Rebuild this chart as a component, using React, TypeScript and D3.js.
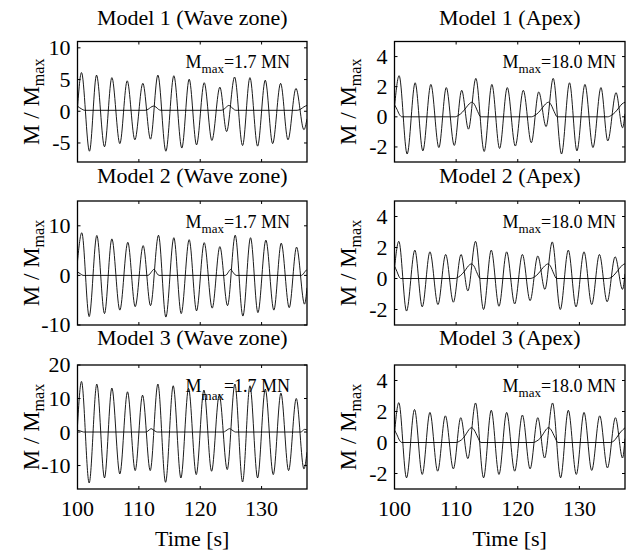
import React from 'react';
import * as d3 from 'd3';

type Pt = [number, number];

const xTicks = [100, 110, 120, 130];
const timeDomain: [number, number] = [100, 137.4];
const titles = [
  'Model 1 (Wave zone)', 'Model 1 (Apex)',
  'Model 2 (Wave zone)', 'Model 2 (Apex)',
  'Model 3 (Wave zone)', 'Model 3 (Apex)',
];
const mmaxLabels = ['1.7 MN', '18.0 MN'];
const yDomains: [number, number][] = [[-8, 11], [-3, 5], [-10, 15], [-3, 5], [-17, 20], [-3, 5]];
const yTickSets = [[-5, 0, 5, 10], [-2, 0, 2, 4], [-10, 0, 10], [-2, 0, 2, 4], [-10, 0, 10, 20], [-2, 0, 2, 4]];

// Model 1 (Wave zone)
const wave11: Pt[] = [
  [100.0, 0.5], [100.65, 6.1], [101.95, -6.3], [103.1, 5.7], [104.4, -5.6], [105.6, 5.3], [106.9, -5.1],
  [108.1, 4.8], [109.35, -4.5], [110.65, 4.4], [111.9, -4.4], [113.1, 5.7], [114.4, -6.3], [115.7, 5.6],
  [117.0, -5.8], [118.2, 5.05], [119.4, -5.3], [120.65, 4.5], [121.9, -4.6], [123.2, 3.8], [124.3, -3.2],
  [125.6, 5.4], [126.9, -5.4], [128.1, 5.3], [129.35, -5.5], [130.6, 4.9], [131.8, -5.1], [133.1, 4.4],
  [134.3, -4.5], [135.6, 3.6], [136.9, -2.9], [137.4, -1.2],
];
const slow11: Pt[] = [
  [100, 0.8], [100.6, 0.4], [101.2, 0.15], [111.0, 0.15], [111.5, 0.3], [111.9, 0.6], [112.4, 0.82], [112.8, 0.65],
  [113.2, 0.3], [113.6, 0.15], [123.4, 0.15], [123.9, 0.35], [124.3, 0.7], [124.65, 0.92], [125.0, 0.75],
  [125.4, 0.35], [125.8, 0.15], [135.8, 0.15], [136.4, 0.35], [136.9, 0.7], [137.4, 0.92],
];
// Model 1 (Apex)
const wave12: Pt[] = [
  [100.0, 0.65], [100.75, 2.73], [102.05, -2.47], [103.35, 2.26], [104.6, -2.26], [105.9, 2.15], [107.2, -2.04],
  [108.4, 1.94], [109.7, -1.9], [110.9, 1.76], [112.0, -0.82], [113.2, 2.55], [114.55, -2.3], [115.8, 2.15],
  [117.05, -2.1], [118.3, 1.94], [119.6, -1.94], [120.9, 1.76], [122.2, -1.72], [123.4, 1.65], [124.6, -0.65],
  [125.75, 2.55], [127.1, -2.47], [128.4, 2.26], [129.6, -2.26], [130.9, 2.15], [132.2, -2.04], [133.5, 1.94],
  [134.6, -1.6], [135.95, 1.6], [137.0, -0.73], [137.4, 0.2],
];
const slow12: Pt[] = [
  [100, 0.8], [100.4, 0.5], [100.8, 0.15], [101.2, 0], [109.8, 0], [110.4, 0.1], [111.0, 0.3], [111.6, 0.6],
  [112.1, 0.85], [112.6, 0.97], [113.0, 0.8], [113.5, 0.35], [114.0, 0], [122.2, 0], [122.8, 0.1], [123.4, 0.3],
  [124.0, 0.6], [124.5, 0.85], [125.0, 0.97], [125.4, 0.8], [125.9, 0.35], [126.4, 0], [134.6, 0], [135.2, 0.1],
  [135.8, 0.3], [136.4, 0.6], [136.9, 0.85], [137.4, 0.97],
];
// Model 2 (Wave zone)
const wave21: Pt[] = [
  [100.0, 2.9], [100.7, 8.6], [101.9, -8.3], [103.15, 8.05], [104.4, -7.7], [105.6, 7.36], [106.9, -7.0],
  [108.2, 6.67], [109.4, -6.3], [110.7, 6.0], [111.9, -6.1], [113.2, 8.1], [114.4, -8.4], [115.7, 7.6],
  [116.9, -7.7], [118.2, 7.2], [119.4, -7.15], [120.65, 6.6], [121.95, -6.6], [123.2, 5.8], [124.45, -6.1],
  [125.7, 8.1], [126.95, -8.2], [128.2, 7.6], [129.4, -7.5], [130.7, 7.1], [132.0, -7.0], [133.2, 6.5],
  [134.5, -6.5], [135.7, 5.7], [137.0, -5.8], [137.4, -2.5],
];
const slow21: Pt[] = [
  [100, 0.7], [100.5, 0.3], [100.9, 0], [111.5, 0], [111.8, 0.3], [112.1, 0.8], [112.45, 1.2], [112.75, 0.8],
  [113.0, 0.3], [113.3, 0], [124.1, 0], [124.4, 0.3], [124.65, 0.8], [124.95, 1.2], [125.25, 0.8], [125.55, 0.3],
  [125.85, 0], [136.5, 0], [136.8, 0.3], [137.1, 0.8], [137.4, 1.2],
];
// Model 2 (Apex)
const wave22: Pt[] = [
  [100.0, 0.66], [100.7, 2.4], [101.95, -2.1], [103.3, 1.83], [104.5, -1.83], [105.75, 1.72], [107.05, -1.68],
  [108.3, 1.55], [109.55, -1.53], [110.8, 1.55], [111.9, -0.8], [113.15, 2.4], [114.45, -2.0], [115.7, 1.83],
  [116.95, -1.79], [118.2, 1.72], [119.5, -1.64], [120.75, 1.55], [122.0, -1.43], [123.25, 1.45], [124.4, -0.7],
  [125.6, 2.36], [126.9, -2.0], [128.2, 1.83], [129.45, -1.83], [130.75, 1.72], [132.0, -1.68], [133.25, 1.55],
  [134.5, -1.5], [135.8, 1.4], [137.0, -0.7], [137.4, 0.3],
];
const slow22: Pt[] = [
  [100, 0.8], [100.4, 0.45], [100.7, 0.15], [101.0, 0], [109.8, 0], [110.4, 0.1], [111.0, 0.3], [111.6, 0.6],
  [112.0, 0.82], [112.5, 0.94], [112.9, 0.8], [113.4, 0.35], [113.9, 0], [122.0, 0], [122.7, 0.1], [123.3, 0.3],
  [123.9, 0.6], [124.4, 0.82], [124.9, 0.94], [125.3, 0.8], [125.8, 0.35], [126.3, 0], [134.6, 0], [135.3, 0.1],
  [135.9, 0.35], [136.5, 0.65], [137.0, 0.87], [137.4, 0.95],
];
// Model 3 (Wave zone)
const wave31: Pt[] = [
  [100.0, 2.0], [100.65, 15.1], [101.9, -15.2], [103.15, 14.3], [104.4, -13.7], [105.6, 13.1], [106.9, -12.5],
  [108.15, 12.0], [109.4, -11.5], [110.6, 11.0], [111.85, -11.5], [113.1, 14.3], [114.35, -15.0], [115.6, 13.8],
  [116.85, -13.7], [118.1, 13.0], [119.35, -12.7], [120.6, 12.5], [121.85, -11.7], [123.1, 11.0], [124.4, -11.2],
  [125.65, 14.3], [126.9, -14.9], [128.1, 13.8], [129.35, -13.7], [130.6, 12.8], [131.9, -12.7], [133.15, 11.6],
  [134.4, -11.5], [135.65, 10.0], [136.9, -11.0], [137.4, -6.0],
];
const slow31: Pt[] = [
  [100, 0.5], [100.5, 0.3], [101.0, 0], [111.2, 0], [111.45, 0.25], [111.7, 0.65], [112.0, 1.0], [112.3, 0.7],
  [112.65, 0.25], [113.0, 0], [123.85, 0], [124.1, 0.25], [124.4, 0.65], [124.8, 1.0], [125.1, 0.7],
  [125.45, 0.25], [125.75, 0], [136.4, 0], [136.65, 0.3], [136.85, 0.65], [137.05, 0.8], [137.4, 0.6],
];
// Model 3 (Apex)
const wave32: Pt[] = [
  [100.0, 0.6], [100.7, 2.57], [101.95, -2.28], [103.25, 2.13], [104.5, -2.06], [105.75, 1.94], [107.0, -1.85],
  [108.25, 1.72], [109.55, -1.7], [110.75, 1.6], [111.9, -1.04], [113.15, 2.55], [114.45, -2.28], [115.7, 2.08],
  [116.95, -2.06], [118.2, 1.94], [119.5, -1.85], [120.75, 1.77], [122.0, -1.7], [123.25, 1.6], [124.35, -1.0],
  [125.65, 2.55], [126.95, -2.28], [128.2, 2.08], [129.5, -2.06], [130.75, 1.94], [132.0, -1.8], [133.3, 1.72],
  [134.55, -1.64], [135.85, 1.6], [137.0, -1.0], [137.4, 0.25],
];
const slow32: Pt[] = [
  [100, 0.8], [100.4, 0.5], [100.8, 0.15], [101.2, 0], [110.0, 0], [110.6, 0.1], [111.2, 0.3], [111.7, 0.6],
  [112.1, 0.84], [112.5, 0.96], [112.9, 0.82], [113.5, 0.35], [114.0, 0], [122.5, 0], [123.1, 0.1], [123.7, 0.3],
  [124.2, 0.6], [124.6, 0.84], [125.0, 0.96], [125.4, 0.82], [126.0, 0.35], [126.5, 0], [135.0, 0], [135.6, 0.1],
  [136.1, 0.35], [136.7, 0.68], [137.4, 0.95],
];

const waves = [wave11, wave12, wave21, wave22, wave31, wave32];
const slows = [slow11, slow12, slow21, slow22, slow31, slow32];

// layout
const W = 634, H = 552;
const colX: [number, number][] = [[77.5, 307], [394.5, 625]];
const rowY: [number, number][] = [[41.5, 162], [201, 325], [365, 489]];
const titleBase = [25, 183, 345];
const FONT = "'Liberation Serif', 'Times New Roman', Times, serif";
const TICK = 3;

function Panel({ idx }: { idx: number }) {
  const row = Math.floor(idx / 2);
  const col = idx % 2;
  const [x0, x1] = colX[col];
  const [y0, y1] = rowY[row];
  const x = d3.scaleLinear().domain(timeDomain).range([x0, x1]);
  const y = d3.scaleLinear().domain(yDomains[idx]).range([y1, y0]);
  const line = d3.line<Pt>().x((d) => x(d[0])).y((d) => y(d[1])).curve(d3.curveMonotoneX);
  const clipId = `clip${idx}`;
  const yc = (y0 + y1) / 2;
  const subDy = row === 2 && col === 0 ? 8 : 5;
  return (
    <g>
      <defs>
        <clipPath id={clipId}>
          <rect x={x0} y={y0} width={x1 - x0} height={y1 - y0} />
        </clipPath>
      </defs>
      <g clipPath={`url(#${clipId})`} fill="none" stroke="#000" strokeWidth={0.9}>
        <path d={line(slows[idx]) || ''} />
        <path d={line(waves[idx]) || ''} />
      </g>
      <rect x={x0} y={y0} width={x1 - x0} height={y1 - y0} fill="none" stroke="#000" strokeWidth={1.3} />
      {xTicks.map((t) => (
        <g key={'xt' + t} stroke="#000" strokeWidth={1}>
          <line x1={x(t)} x2={x(t)} y1={y1} y2={y1 - TICK} />
          <line x1={x(t)} x2={x(t)} y1={y0} y2={y0 + TICK} />
        </g>
      ))}
      {yTickSets[idx].map((v) => (
        <g key={'yt' + v}>
          <line x1={x0} x2={x0 + TICK} y1={y(v)} y2={y(v)} stroke="#000" strokeWidth={1} />
          <line x1={x1} x2={x1 - TICK} y1={y(v)} y2={y(v)} stroke="#000" strokeWidth={1} />
          <text x={x0 - 7} y={y(v)} dy="0.34em" textAnchor="end" fontSize={22}>{v}</text>
        </g>
      ))}
      {row === 2 && xTicks.map((t) => (
        <text key={'xl' + t} x={x(t)} y={516} textAnchor="middle" fontSize={22}>{t}</text>
      ))}
      {row === 2 && (
        <text x={(x0 + x1) / 2} y={546} textAnchor="middle" fontSize={22}>Time [s]</text>
      )}
      <text x={(x0 + x1) / 2} y={titleBase[row]} textAnchor="middle" fontSize={22}>{titles[idx]}</text>
      <text transform={`translate(${x0 - 38.5},${yc}) rotate(-90)`} textAnchor="middle" fontSize={23}>
        M / M<tspan dy={5} fontSize={16}>max</tspan>
      </text>
      <text x={x0 + 108} y={y0 + 26.5} fontSize={18}>
        M<tspan dy={subDy} fontSize={13}>max</tspan><tspan dy={-subDy}>=</tspan>{mmaxLabels[col]}
      </text>
    </g>
  );
}

export default function App() {
  return (
    <svg width={W} height={H} viewBox={`0 0 ${W} ${H}`}
      style={{ position: 'absolute', left: 0, top: 0, background: '#fff', fontFamily: FONT }}
      fill="#000">
      <rect x={0} y={0} width={W} height={H} fill="#fff" />
      {titles.map((_, i) => <Panel key={i} idx={i} />)}
    </svg>
  );
}
